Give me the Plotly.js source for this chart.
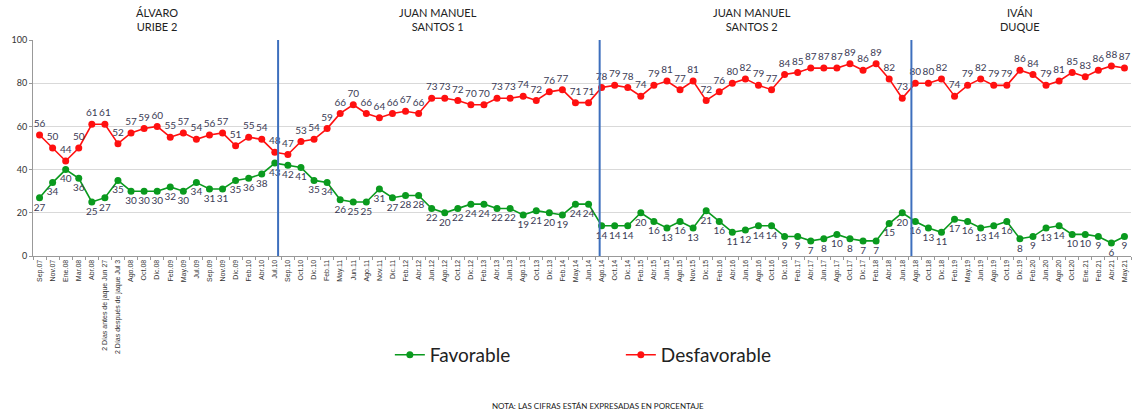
<!DOCTYPE html>
<html><head><meta charset="utf-8">
<script src="https://cdn.plot.ly/plotly-3.0.1.min.js"></script>
<style>html,body{margin:0;padding:0;background:#fff}#chart{width:1133px;height:414px}</style>
</head><body><div id="chart"></div>
<script>
const categories = ["Sep.07","Nov.07","Ene.08","Mar.08","Abr.08","2 Días antes de jaque Jun 27","2 Días después de jaque Jul 3","Ago.08","Oct.08","Dic.08","Feb.09","May.09","Jul.09","Sep.09","Nov.09","Dic.09","Feb.10","Abr.10","Jul.10",
"Sep.10","Oct.10","Dic.10","Feb.11","May.11","Jun.11","Ago.11","Nov.11","Dic.11","Feb.12","Abr.12","Jun.12","Ago.12","Oct.12","Dic.12","Feb.13","Abr.13","Jun.13","Ago.13","Oct.13","Dic.13","Feb.14","May.14","Jun.14",
"Ago.14","Oct.14","Dic.14","Feb.15","Abr.15","Jun.15","Ago.15","Nov.15","Dic.15","Feb.16","Abr.16","Jun.16","Ago.16","Oct.16","Dic.16","Feb.17","Abr.17","Jun.17","Ago.17","Oct.17","Dic.17","Feb.18","Abr.18","Jun.18",
"Ago.18","Oct.18","Dic.18","Feb.19","May.19","Jun.19","Ago.19","Oct.19","Dic.19","Feb.20","Jun.20","Ago.20","Oct.20","Ene.21","Feb.21","Abr.21","May.21"];

const favorable = [27,34,40,36,25,27,35,30,30,30,32,30,34,31,31,35,36,38,43,
42,41,35,34,26,25,25,31,27,28,28,22,20,22,24,24,22,22,19,21,20,19,24,24,
14,14,14,20,16,13,16,13,21,16,11,12,14,14,9,9,7,8,10,8,7,7,15,20,
16,13,11,17,16,13,14,16,8,9,13,14,10,10,9,6,9];

const desfavorable = [56,50,44,50,61,61,52,57,59,60,55,57,54,56,57,51,55,54,48,
47,53,54,59,66,70,66,64,66,67,66,73,73,72,70,70,73,73,74,72,76,77,71,71,
78,79,78,74,79,81,77,81,72,76,80,82,79,77,84,85,87,87,87,89,86,89,82,73,
80,80,82,74,79,82,79,79,86,84,79,81,85,83,86,88,87];

const periods = ["ÁLVARO<br>URIBE 2","JUAN MANUEL<br>SANTOS 1","JUAN MANUEL<br>SANTOS 2","IVÁN<br>DUQUE"];
const periodCounts = [19,24,24,17];
const note = "NOTA: LAS CIFRAS ESTÁN EXPRESADAS EN PORCENTAJE";

const idx = categories.map((_, i) => i);
const labelFont = {family: "Lato, 'Open Sans', sans-serif", size: 10, color: "#3b3b55"};

const traces = [
  {x: idx, y: favorable, name: "Favorable", type: "scatter", mode: "lines+markers+text",
   line: {color: "#0a9a1e", width: 1.6}, marker: {color: "#0a9a1e", size: 7},
   text: favorable.map(String), textposition: "bottom center", textfont: labelFont, cliponaxis: false},
  {x: idx, y: desfavorable, name: "Desfavorable", type: "scatter", mode: "lines+markers+text",
   line: {color: "#ff1010", width: 1.6}, marker: {color: "#ff1010", size: 7},
   text: desfavorable.map(String), textposition: "top center", textfont: labelFont, cliponaxis: false}
];

const shapes = [], annotations = [];
let start = 0;
const divOffsets = [0.25, -0.15, -0.3];
periodCounts.forEach((n, p) => {
  const end = start + n - 1;
  annotations.push({x: (start + end) / 2, y: 1, xref: "x", yref: "paper", yanchor: "bottom", yshift: 5,
    text: periods[p], showarrow: false, font: {family: "Lato, 'Open Sans', sans-serif", size: 11, color: "#222"}});
  if (p < periodCounts.length - 1) {
    const bx = p === 0 ? end + divOffsets[0] : end + 1 + divOffsets[p];
    shapes.push({type: "line", xref: "x", yref: "paper", x0: bx, x1: bx, y0: 0, y1: 1,
      line: {color: "#3d6fbd", width: 2}});
  }
  start += n;
});
annotations.push({x: 0.515, y: 0, xref: "paper", yref: "paper", yanchor: "bottom", yshift: -157,
  text: note, showarrow: false, font: {family: "Lato, 'Open Sans', sans-serif", size: 8, color: "#222"}});

const layout = {
  width: 1133, height: 414,
  margin: {l: 33, r: 2, t: 40, b: 158},
  paper_bgcolor: "#fff", plot_bgcolor: "#fff",
  showlegend: true,
  legend: {orientation: "h", x: 0.325, xanchor: "left", y: -0.37, yanchor: "top",
    font: {family: "Lato, 'Open Sans', sans-serif", size: 19, color: "#222"},
    entrywidth: 186, entrywidthmode: "pixels", traceorder: "normal"},
  xaxis: {range: [-0.5, categories.length - 0.5], tickvals: idx, ticktext: categories, tickangle: -90,
    tickfont: {family: "'Liberation Sans', Arial, sans-serif", size: 7, color: "#333"},
    showgrid: false, zeroline: false, showline: true, linecolor: "#999", linewidth: 1,
    ticks: "", automargin: false,
    minor: {tick0: 0.5, dtick: 1, ticks: "outside", ticklen: 3, tickcolor: "#999", showgrid: false}},
  yaxis: {range: [0, 100], dtick: 20, showgrid: true, gridcolor: "#d9d9d9", gridwidth: 1,
    zeroline: false, showline: true, linecolor: "#999", linewidth: 1,
    tickfont: {family: "Lato, sans-serif", size: 9, color: "#333"}, ticks: "outside", ticklen: 3, tickcolor: "#999", automargin: false},
  shapes: shapes,
  annotations: annotations
};
Plotly.newPlot("chart", traces, layout, {displayModeBar: false, staticPlot: true});
</script></body></html>
